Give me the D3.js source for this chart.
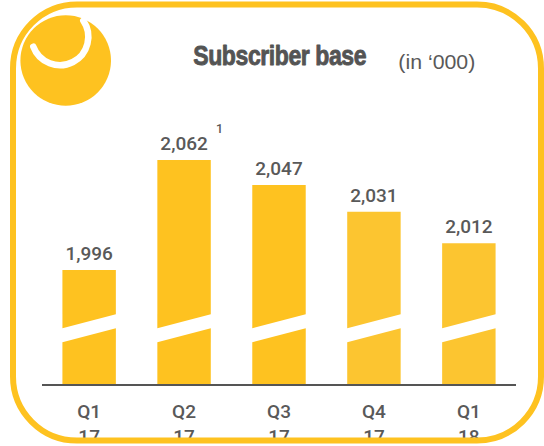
<!DOCTYPE html>
<html>
<head>
<meta charset="utf-8">
<script src="https://cdn.jsdelivr.net/npm/d3@7"></script>
<style>
  html, body { margin: 0; padding: 0; background: #fff; }
  svg { display: block; }
</style>
</head>
<body>
<svg id="chart" width="544" height="446"></svg>
<script>
// data
const quarters = ["Q1", "Q2", "Q3", "Q4", "Q1"];
const years = ["17", "17", "17", "17", "18"];
const subscribers = [1996, 2062, 2047, 2031, 2012];
const footnotes = ["", "1", "", "", ""];
const barColors = ["#FEC220", "#FEC220", "#FEC220", "#FCC530", "#FCC530"];

const svg = d3.select("#chart");
const textColor = "#595959";
const yellow = "#FEC220";
const labelFont = "Roboto, 'Liberation Sans', Arial, sans-serif";
const baseY = 385;

const x = d3.scaleBand()
  .domain(d3.range(subscribers.length))
  .range([42, 516])
  .paddingInner(0.437)
  .paddingOuter(0.215);

// broken axis: only the top part of the scale is true to value
const y = d3.scaleLinear()
  .domain([1996, 2062])
  .range([270, 160]);

const fmt = d3.format(",");

// bars, each split by a slanted white gap
const breakLeft = 335.3, breakRight = 321.2, gap = 7;
const bars = svg.append("g");
subscribers.forEach((v, i) => {
  const x0 = x(i), x1 = x(i) + x.bandwidth();
  const top = y(v);
  bars.append("path")
    .attr("fill", barColors[i])
    .attr("d", `M${x0},${top}H${x1}V${breakRight - gap}L${x0},${breakLeft - gap}Z`);
  bars.append("path")
    .attr("fill", barColors[i])
    .attr("d", `M${x0},${breakLeft + gap}L${x1},${breakRight + gap}V${baseY - 1}H${x0}Z`);
});

// axis line
svg.append("line")
  .attr("x1", x.range()[0]).attr("x2", x.range()[1])
  .attr("y1", baseY).attr("y2", baseY)
  .attr("stroke", "#555").attr("stroke-width", 2);

// value labels
svg.append("g").selectAll("text")
  .data(subscribers)
  .join("text")
  .attr("x", (d, i) => x(i) + x.bandwidth() / 2)
  .attr("y", d => y(d) - 10)
  .attr("text-anchor", "middle")
  .attr("font-family", labelFont)
  .attr("font-weight", 500)
  .attr("font-size", 19)
  .attr("fill", textColor)
  .text(d => fmt(d));

svg.append("g").selectAll("text")
  .data(footnotes)
  .join("text")
  .attr("x", (d, i) => x(i) + x.bandwidth() / 2 + 32)
  .attr("y", (d, i) => y(subscribers[i]) - 27.5)
  .attr("font-family", labelFont)
  .attr("font-weight", 500)
  .attr("font-size", 12.5)
  .attr("fill", textColor)
  .text(d => d);

// category labels (2 lines, bottom line runs under the frame)
const cats = svg.append("g").selectAll("text")
  .data(quarters)
  .join("text")
  .attr("x", (d, i) => x(i) + x.bandwidth() / 2)
  .attr("y", 417.5)
  .attr("text-anchor", "middle")
  .attr("font-family", labelFont)
  .attr("font-weight", 500)
  .attr("font-size", 19)
  .attr("fill", textColor);
cats.append("tspan").text(d => d);
cats.append("tspan")
  .attr("x", (d, i) => x(i) + x.bandwidth() / 2)
  .attr("dy", 25.7)
  .text((d, i) => years[i]);

// frame
svg.append("rect")
  .attr("x", 13).attr("y", 4.5)
  .attr("width", 528).attr("height", 436)
  .attr("rx", 64).attr("ry", 64)
  .attr("fill", "none")
  .attr("stroke", yellow)
  .attr("stroke-width", 6);
svg.append("rect")
  .attr("x", 0).attr("y", 444)
  .attr("width", 544).attr("height", 2)
  .attr("fill", "#fff");

// logo circle with white swoosh
svg.append("circle")
  .attr("cx", 65.7).attr("cy", 60.5).attr("r", 45.3)
  .attr("fill", yellow);
const swoosh = d3.path();
swoosh.arc(59.9, 36.8, 28.4, -34.5 * Math.PI / 180, 159.6 * Math.PI / 180, false);
svg.append("path")
  .attr("d", swoosh.toString())
  .attr("fill", "none")
  .attr("stroke", "#fff")
  .attr("stroke-width", 6.5)
  .attr("stroke-linecap", "round");

// title, squeezed horizontally to mimic the condensed face
svg.append("text")
  .attr("transform", "translate(193.3,65) scale(0.822,1)")
  .attr("font-family", "'Liberation Sans', Arial, sans-serif")
  .attr("font-weight", "bold")
  .attr("font-size", 28)
  .attr("letter-spacing", -0.5)
  .attr("fill", "#545454")
  .attr("stroke", "#545454")
  .attr("stroke-width", 0.9)
  .attr("stroke-linejoin", "round")
  .text("Subscriber base");

svg.append("text")
  .attr("x", 398.3).attr("y", 68.5)
  .attr("font-family", "'Liberation Sans', Arial, sans-serif")
  .attr("font-size", 19.5)
  .attr("textLength", 77)
  .attr("lengthAdjust", "spacingAndGlyphs")
  .attr("fill", textColor)
  .text("(in ‘000)");
</script>
</body>
</html>
